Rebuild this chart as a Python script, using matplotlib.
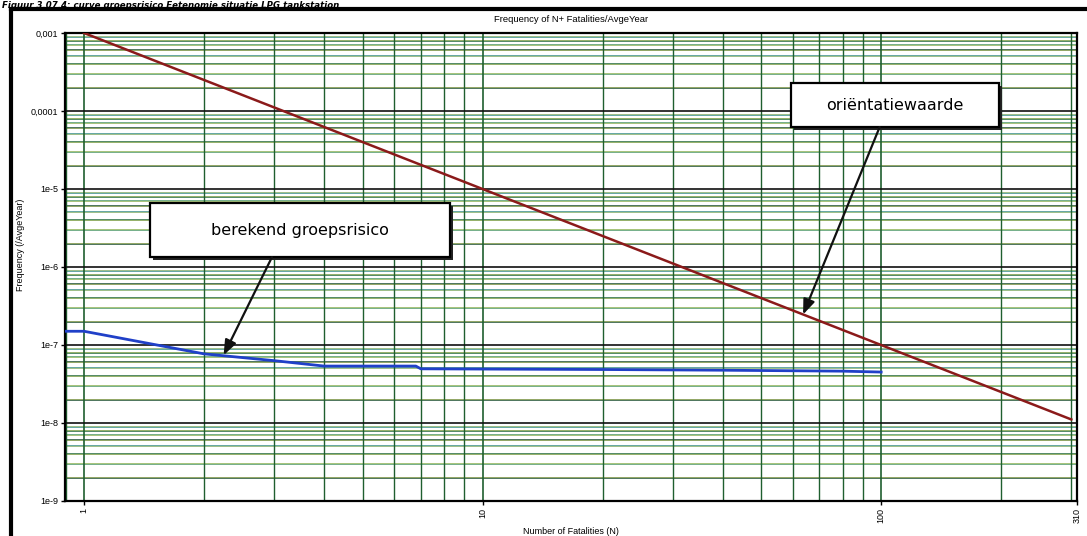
import matplotlib
matplotlib.use("Agg")
import matplotlib.pyplot as plt
from matplotlib.patches import Rectangle
from matplotlib.lines import Line2D
from matplotlib.ticker import FixedLocator, LogLocator, NullFormatter

# ---- data ----
calc_n = [0.896, 1, 2, 3, 4, 6.8, 7, 20, 40, 80, 100]
calc_f = [1.5e-7, 1.5e-7, 7.7e-8, 6.3e-8, 5.37e-8, 5.37e-8, 4.95e-8, 4.85e-8, 4.75e-8, 4.62e-8, 4.5e-8]
orient_n = [1, 300]
orient_f = [1e-3, 1.11e-8]
x_ticks = [1, 10, 100, 310]
x_labels = ["1", "10", "100", "310"]
y_ticks = [1e-3, 1e-4, 1e-5, 1e-6, 1e-7, 1e-8, 1e-9]
y_labels = ["0,001", "0,0001", "1e-5", "1e-6", "1e-7", "1e-8", "1e-9"]
title = "Frequency of N+ Fatalities/AvgeYear"
xlabel = "Number of Fatalities (N)"
ylabel = "Frequency (/AvgeYear)"
caption = "Figuur 3.07.4: curve groepsrisico Eetenomie situatie LPG tankstation"
label_calc = "berekend groepsrisico"
label_orient = "oriëntatiewaarde"

plt.rcParams["font.family"] = ["Liberation Sans", "DejaVu Sans"]
fig = plt.figure(figsize=(10.87, 5.36), dpi=100)
ax = fig.add_axes([65 / 1087, 1 - 501 / 536, 1012 / 1087, 468 / 536])
ax.set_xscale("log")
ax.set_yscale("log")
ax.set_xlim(0.896, 310)
ax.set_ylim(1e-9, 1e-3)

# grid
ax.xaxis.set_minor_locator(LogLocator(base=10, subs=range(2, 10)))
ax.yaxis.set_minor_locator(LogLocator(base=10, subs=range(2, 10)))
ax.xaxis.set_minor_formatter(NullFormatter())
ax.yaxis.set_minor_formatter(NullFormatter())
ax.set_axisbelow(True)
ax.grid(which="minor", axis="x", color="#1f5f2f", lw=1.0)
ax.grid(which="major", axis="x", color="#1f5f2f", lw=1.2)
minor_cols = ["#246b3c", "#3a8f8a", "#1d4f30", "#4f9a6a"]
for dec in range(-9, -3):
    for k in range(2, 10):
        ax.axhline(k * 10.0 ** dec, color=minor_cols[k % 4], lw=1.1, zorder=0)
        ax.axhline(k * 10.0 ** dec * 1.015, color="#d8d870", lw=0.6, alpha=0.6, zorder=0)
ax.grid(which="major", axis="y", color="#111111", lw=1.2)

ax.xaxis.set_major_locator(FixedLocator(x_ticks))
ax.set_xticklabels(x_labels, rotation=90, fontsize=6.5)
ax.yaxis.set_major_locator(FixedLocator(y_ticks))
ax.set_yticklabels(y_labels, fontsize=6.5)
ax.tick_params(which="major", length=3, width=1, pad=2)
ax.tick_params(which="minor", length=0)
for s in ax.spines.values():
    s.set_linewidth(1.6)
    s.set_color("black")

# series
ax.plot(orient_n, orient_f, color="#8b1a1a", lw=1.8, zorder=3)
ax.plot(calc_n, calc_f, color="#2040c8", lw=2.0, zorder=3)

ax.set_title(title, fontsize=6.8, pad=8)
ax.set_xlabel(xlabel, fontsize=6.5)
ax.xaxis.set_label_coords(0.5, -0.055)
ax.set_ylabel(ylabel, fontsize=6.5)
ax.yaxis.set_label_coords(-0.04, 0.547)


def callout(x0, y0, w, h, text, start, tip_n, tip_f):
    sh = Rectangle((x0 + 0.003, y0 - 0.006), w, h, transform=ax.transAxes,
                   facecolor="#222222", edgecolor="none", zorder=4)
    ax.add_patch(sh)
    r = Rectangle((x0, y0), w, h, transform=ax.transAxes, facecolor="white",
                  edgecolor="black", lw=1.6, zorder=5)
    ax.add_patch(r)
    ax.text(x0 + w / 2, y0 + h / 2, text, transform=ax.transAxes, ha="center",
            va="center", fontsize=11.5, family="DejaVu Sans", zorder=6)
    ax.annotate("", xy=(tip_n, tip_f), xycoords="data", xytext=start,
                textcoords="axes fraction",
                arrowprops=dict(arrowstyle="-|>,head_length=0.9,head_width=0.35",
                                color="#111111", lw=1.6, shrinkA=0, shrinkB=0),
                zorder=6)


callout(0.084, 0.521, 0.296, 0.116, label_calc, (0.2045, 0.521), 2.24, 7.4e-8)
callout(0.717, 0.799, 0.206, 0.094, label_orient, (0.805, 0.799), 63.7, 2.46e-7)

# page frame and caption
fig.add_artist(Line2D([0.0101, 0.0101], [0, 0.984], transform=fig.transFigure,
                      color="black", lw=3))
fig.add_artist(Line2D([0.0101, 1.0], [0.984, 0.984], transform=fig.transFigure,
                      color="black", lw=3))
fig.text(0.002, 0.9985, caption, fontsize=6.2, fontstyle="italic", fontweight="bold",
         family="DejaVu Sans", va="top", ha="left")

fig.savefig("out.png", dpi=100)
